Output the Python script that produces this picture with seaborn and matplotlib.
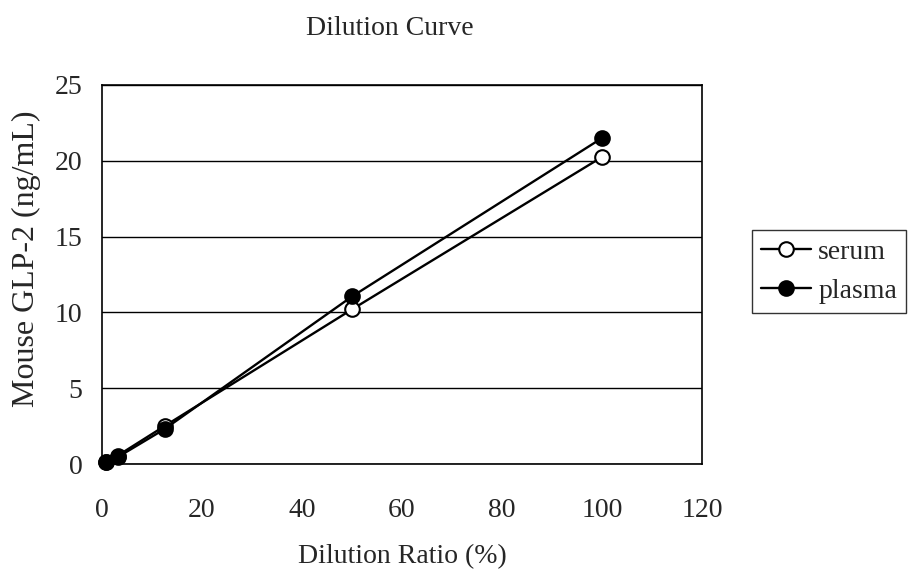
import matplotlib
matplotlib.use("Agg")
import matplotlib.pyplot as plt
import seaborn as sns
import pandas as pd

dilution = [0.78, 3.125, 12.5, 50, 100]
serum = [0.15, 0.55, 2.5, 10.2, 20.25]
plasma = [0.12, 0.45, 2.3, 11.05, 21.5]
x_ticks = [0, 20, 40, 60, 80, 100, 120]
y_ticks = [0, 5, 10, 15, 20, 25]

df = pd.DataFrame({
    "Dilution": dilution * 2,
    "Value": serum + plasma,
    "Sample": ["serum"] * len(serum) + ["plasma"] * len(plasma),
})

sns.set_style("white")
plt.rcParams['font.family'] = ['Liberation Serif', 'DejaVu Serif']

fig = plt.figure(figsize=(9.09, 5.7), dpi=100)
ax = fig.add_axes([102/909, (570-464)/570, 600/909, 379/570])

for name, face in [("serum", "white"), ("plasma", "black")]:
    sub = df[df["Sample"] == name]
    sns.lineplot(data=sub, x="Dilution", y="Value", ax=ax, color="black",
                 linewidth=1.7, marker="o", markersize=10.5,
                 markerfacecolor=face, markeredgecolor="black",
                 markeredgewidth=1.5, label=name, clip_on=False, zorder=3)

ax.set_xlim(0, 120)
ax.set_ylim(0, 25)
ax.set_xticks(x_ticks)
ax.set_yticks(y_ticks)
ax.tick_params(axis="x", direction="in", length=6.5, width=1, pad=24.5, labelsize=20)
ax.tick_params(axis="y", length=0, pad=14, labelsize=20)
ax.yaxis.grid(True, color="black", linewidth=1)
ax.xaxis.grid(False)
ax.set_axisbelow(True)
for s in ax.spines.values():
    s.set_color("black")
    s.set_linewidth(1.2)
    s.set_visible(True)

ax.set_xlabel("Dilution Ratio (%)", fontsize=20)
ax.xaxis.set_label_coords(402/909, 1 - 563/570, transform=fig.transFigure)
ax.xaxis.label.set_verticalalignment("baseline")
ax.set_ylabel("Mouse GLP-2 (ng/mL)", fontsize=23)
ax.yaxis.set_label_coords(26/909, 1 - 259/570, transform=fig.transFigure)
ax.yaxis.label.set_verticalalignment("center")
ax.yaxis.label.set_horizontalalignment("center")
fig.text(390/909, 1 - 35/570, "Dilution Curve", ha="center", va="baseline", fontsize=20)

leg = ax.legend(loc="upper left", bbox_to_anchor=(752/909, 1 - 230/570),
                bbox_transform=fig.transFigure, frameon=True, fancybox=False,
                fontsize=20, handlelength=1.8, borderpad=0.33, labelspacing=0.5,
                handletextpad=0.25, borderaxespad=0)
leg.get_frame().set_edgecolor("black")
leg.get_frame().set_linewidth(1)

fig.savefig("out.png", dpi=100)
